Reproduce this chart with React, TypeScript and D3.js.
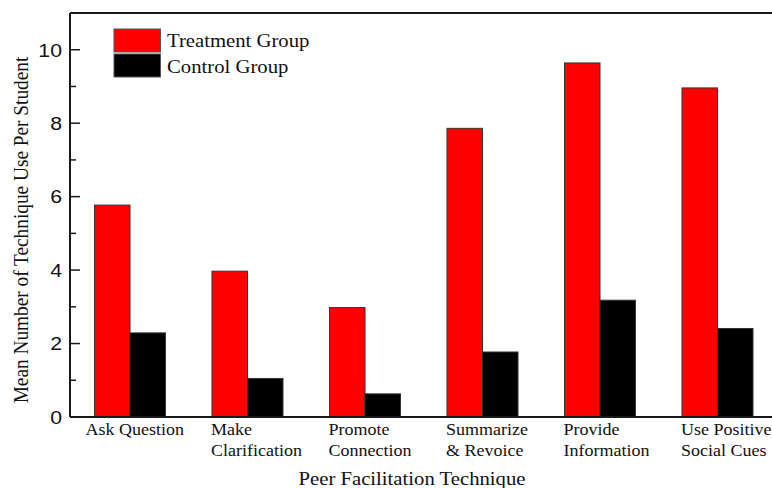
import React from "react";
import * as d3 from "d3";

const categories = [
  "Ask Question",
  "Make Clarification",
  "Promote Connection",
  "Summarize & Revoice",
  "Provide Information",
  "Use Positive Social Cues",
];
const labelLines = [
  ["Ask Question"],
  ["Make", "Clarification"],
  ["Promote", "Connection"],
  ["Summarize", "& Revoice"],
  ["Provide", "Information"],
  ["Use Positive", "Social Cues"],
];
const treatment = [5.77, 3.97, 2.98, 7.86, 9.64, 8.96];
const control = [2.29, 1.05, 0.63, 1.77, 3.18, 2.41];
const seriesNames = ["Treatment Group", "Control Group"];
const seriesColors = ["#ff0000", "#000000"];
const yMajorTicks = [0, 2, 4, 6, 8, 10];
const yMinorTicks = [1, 3, 5, 7, 9];

export default function App() {
  const W = 772;
  const H = 488;
  const left = 70;
  const top = 13;
  const bottom = 417;
  const right = 776.25;

  const y = d3.scaleLinear().domain([0, 11]).range([bottom, top]);
  const x = d3.scaleBand<string>().domain(categories).range([71.25, right]).padding(0);
  const bw = x.bandwidth();
  const barW = 35.5;
  const sub = d3
    .scaleBand<string>()
    .domain(["t", "c"])
    .range([bw / 2 - barW, bw / 2 + barW])
    .padding(0);

  const serif = "'Liberation Serif', 'Times New Roman', serif";
  const sans = "'Liberation Sans', Arial, sans-serif";
  const axisColor = "#1a1a1a";
  const sx = 1.12;

  return (
    <svg
      width={W}
      height={H}
      style={{ position: "absolute", left: 0, top: 0, background: "#fff" }}
    >
      {/* bars */}
      {categories.map((c, i) => {
        const x0 = x(c)!;
        return (
          <g key={c}>
            <rect
              x={x0 + sub("t")!}
              y={y(treatment[i])}
              width={sub.bandwidth()}
              height={y(0) - y(treatment[i])}
              fill={seriesColors[0]}
              stroke="#333"
              strokeWidth={1}
            />
            <rect
              x={x0 + sub("c")!}
              y={y(control[i])}
              width={sub.bandwidth()}
              height={y(0) - y(control[i])}
              fill={seriesColors[1]}
              stroke="#333"
              strokeWidth={1}
            />
          </g>
        );
      })}

      {/* frame */}
      <line x1={left} x2={left} y1={top} y2={bottom} stroke={axisColor} strokeWidth={2} />
      <line x1={left} x2={right} y1={bottom} y2={bottom} stroke={axisColor} strokeWidth={2} />
      <line x1={left} x2={right} y1={top} y2={top} stroke={axisColor} strokeWidth={2} />
      <line x1={right} x2={right} y1={top} y2={bottom} stroke={axisColor} strokeWidth={2} />

      {/* y ticks */}
      {yMajorTicks.map((t) => (
        <g key={"M" + t}>
          <line x1={left} x2={left + 10} y1={y(t)} y2={y(t)} stroke={axisColor} strokeWidth={1.5} />
          <text
            transform={`translate(62, ${y(t)}) scale(${sx}, 1)`}
            dy="0.36em"
            textAnchor="end"
            fontFamily={sans}
            fontSize={19}
            fill="#111"
          >
            {t}
          </text>
        </g>
      ))}
      {yMinorTicks.map((t) => (
        <line key={"m" + t} x1={left} x2={left + 6} y1={y(t)} y2={y(t)} stroke={axisColor} strokeWidth={1.5} />
      ))}

      {/* x category labels */}
      {categories.map((c, i) => {
        const lines = labelLines[i];
        const x0 = x(c)! + sub("t")!;
        const single = lines.length === 1;
        const tx = single ? x0 - 9 : x0 - 1;
        return (
          <text
            key={"l" + c}
            transform={`translate(${tx}, 435) scale(1.06, 1)`}
            textAnchor="start"
            fontFamily={serif}
            fontSize={17}
            fill="#111"
          >
            {lines.map((ln, j) => (
              <tspan key={j} x={0} dy={j === 0 ? 0 : 21}>
                {ln}
              </tspan>
            ))}
          </text>
        );
      })}

      {/* axis titles */}
      <text
        transform={`translate(412, 485) scale(${sx}, 1)`}
        textAnchor="middle"
        fontFamily={serif}
        fontSize={18.5}
        fill="#111"
      >
        Peer Facilitation Technique
      </text>
      <text
        transform={`translate(28, 230) scale(${sx}, 1) rotate(-90)`}
        textAnchor="middle"
        fontFamily={serif}
        fontSize={19.3}
        fill="#111"
      >
        Mean Number of Technique Use Per Student
      </text>

      {/* legend */}
      {seriesNames.map((n, i) => (
        <g key={n}>
          <rect
            x={114}
            y={29 + i * 25}
            width={46.5}
            height={23}
            fill={seriesColors[i]}
            stroke="#555"
            strokeWidth={1}
          />
          <text
            transform={`translate(167, ${47 + i * 25.5}) scale(${sx}, 1)`}
            fontFamily={serif}
            fontSize={18.5}
            fill="#111"
          >
            {n}
          </text>
        </g>
      ))}
    </svg>
  );
}
